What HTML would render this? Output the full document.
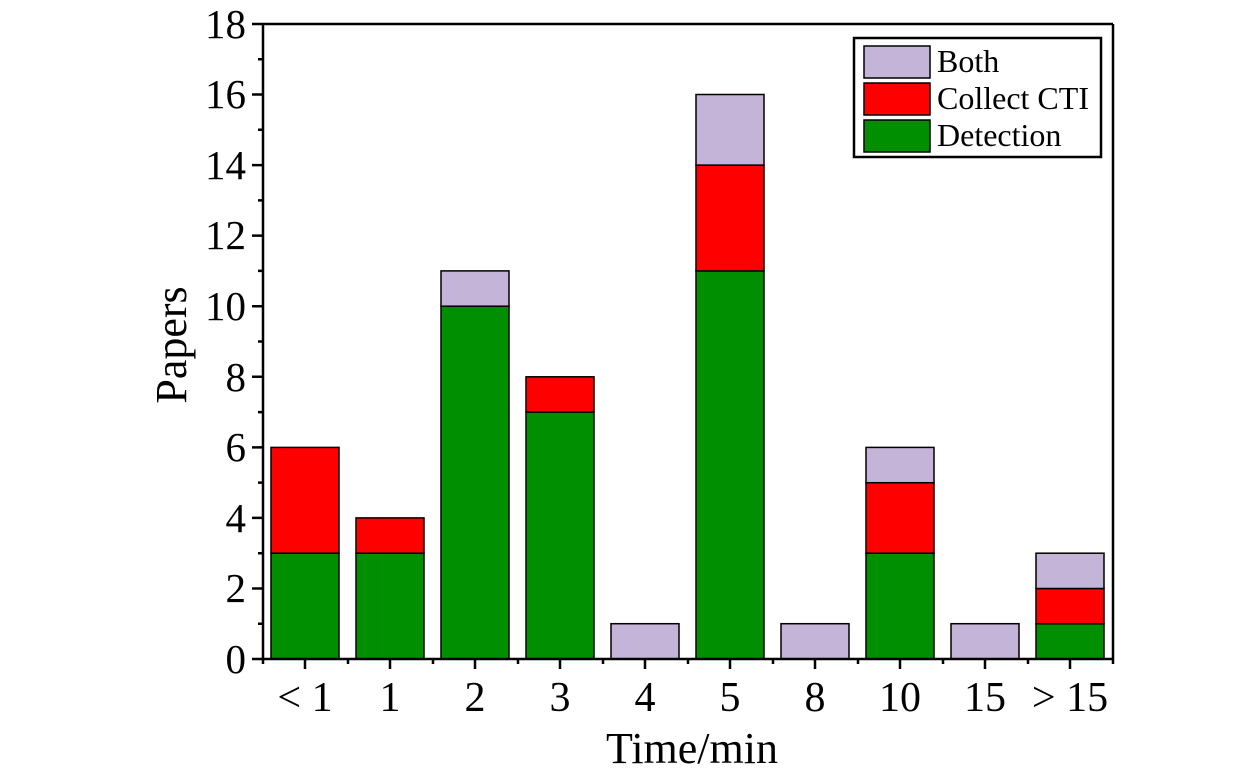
<!DOCTYPE html>
<html><head><style>body{margin:0;background:#fff}</style></head><body>
<svg width="1260" height="778" xmlns="http://www.w3.org/2000/svg" font-family="Liberation Serif, serif">
<rect width="1260" height="778" fill="#fff"/>
<g stroke="#000" stroke-width="1.5">
<rect x="271" y="553.2" width="68" height="105.8" fill="#008f00"/>
<rect x="271" y="447.4" width="68" height="105.8" fill="#ff0000"/>
<rect x="356" y="553.2" width="68" height="105.8" fill="#008f00"/>
<rect x="356" y="517.9" width="68" height="35.3" fill="#ff0000"/>
<rect x="441" y="306.2" width="68" height="352.8" fill="#008f00"/>
<rect x="441" y="270.9" width="68" height="35.3" fill="#c4b4d8"/>
<rect x="526" y="412.0" width="68" height="247" fill="#008f00"/>
<rect x="526" y="376.8" width="68" height="35.3" fill="#ff0000"/>
<rect x="611" y="623.7" width="68" height="35.3" fill="#c4b4d8"/>
<rect x="696" y="270.9" width="68" height="388.1" fill="#008f00"/>
<rect x="696" y="165.1" width="68" height="105.8" fill="#ff0000"/>
<rect x="696" y="94.5" width="68" height="70.6" fill="#c4b4d8"/>
<rect x="781" y="623.7" width="68" height="35.3" fill="#c4b4d8"/>
<rect x="866" y="553.2" width="68" height="105.8" fill="#008f00"/>
<rect x="866" y="482.6" width="68" height="70.6" fill="#ff0000"/>
<rect x="866" y="447.4" width="68" height="35.3" fill="#c4b4d8"/>
<rect x="951" y="623.7" width="68" height="35.3" fill="#c4b4d8"/>
<rect x="1036" y="623.7" width="68" height="35.3" fill="#008f00"/>
<rect x="1036" y="588.5" width="68" height="35.3" fill="#ff0000"/>
<rect x="1036" y="553.2" width="68" height="35.3" fill="#c4b4d8"/>
</g>
<g stroke="#000" stroke-width="2.5" fill="none">
<line x1="263" y1="24" x2="263" y2="659"/>
<line x1="252" y1="24" x2="1113" y2="24"/>
<line x1="252" y1="659" x2="1113" y2="659"/>
<line x1="1113" y1="24" x2="1113" y2="659"/>
<path d="M252 94.5H263M252 165.1H263M252 235.6H263M252 306.2H263M252 376.8H263M252 447.4H263M252 517.9H263M252 588.5H263"/>
<path d="M258 59.3H263M258 129.8H263M258 200.4H263M258 270.9H263M258 341.5H263M258 412.1H263M258 482.6H263M258 553.2H263M258 623.7H263"/>
<path d="M305 659V669M390 659V669M475 659V669M560 659V669M645 659V669M730 659V669M815 659V669M900 659V669M985 659V669M1070 659V669"/>
<path d="M263 659V664M348 659V664M433 659V664M518 659V664M603 659V664M688 659V664M773 659V664M858 659V664M943 659V664M1028 659V664M1113 659V664"/>
</g>
<g font-size="41" text-anchor="end">
<text x="246" y="673">0</text><text x="246" y="602">2</text><text x="246" y="532">4</text>
<text x="246" y="461">6</text><text x="246" y="391">8</text><text x="246" y="320">10</text>
<text x="246" y="249">12</text><text x="246" y="179">14</text><text x="246" y="108">16</text>
<text x="246" y="38">18</text>
</g>
<g font-size="42" text-anchor="middle">
<text x="305" y="711">&lt; 1</text><text x="390" y="711">1</text><text x="475" y="711">2</text>
<text x="560" y="711">3</text><text x="645" y="711">4</text><text x="730" y="711">5</text>
<text x="815" y="711">8</text><text x="900" y="711">10</text><text x="985" y="711">15</text>
<text x="1070" y="711">&gt; 15</text>
</g>
<g font-size="44" text-anchor="middle">
<text x="692" y="763">Time/min</text>
<text transform="translate(186,345) rotate(-90)">Papers</text>
</g>
<rect x="854" y="38" width="247" height="119" fill="#fff" stroke="#000" stroke-width="2.5"/>
<g stroke="#000" stroke-width="1.5">
<rect x="864" y="46" width="66" height="32" fill="#c4b4d8"/>
<rect x="864" y="83" width="66" height="32" fill="#ff0000"/>
<rect x="864" y="120" width="66" height="32" fill="#008f00"/>
</g>
<g font-size="32">
<text x="937" y="72">Both</text>
<text x="937" y="109">Collect CTI</text>
<text x="937" y="146">Detection</text>
</g>
</svg>
</body></html>
